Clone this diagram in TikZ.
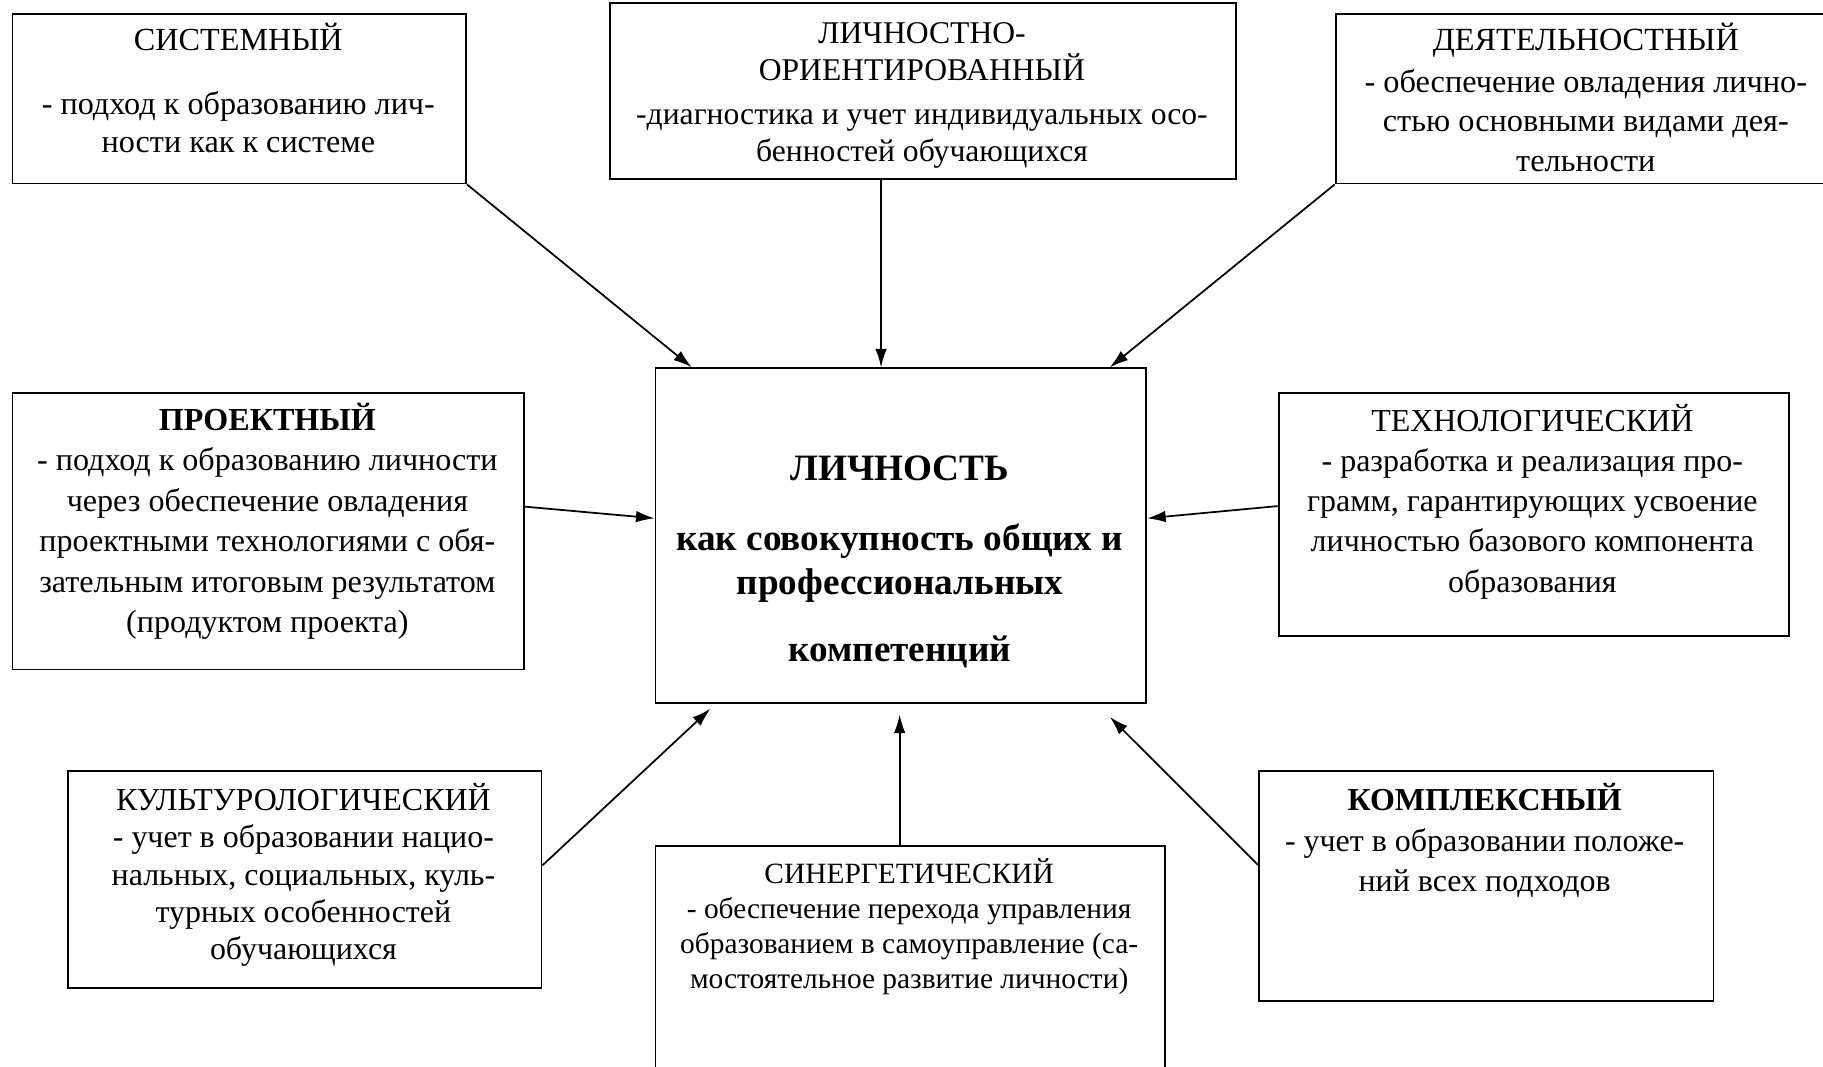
\documentclass[tikz,border=0pt]{standalone}
\usepackage{fontspec}
\setmainfont{Liberation Serif}
\usetikzlibrary{arrows.meta,calc}
\newcommand{\fs}{\rule{0pt}{26pt}}
\tikzset{
  box/.style={draw, line width=1.6pt, rectangle, anchor=north west, inner sep=0pt},
  txt/.style={anchor=north, inner sep=0pt, align=center},
  arr/.style={line width=1.5pt, -{Latex[length=16pt,width=10pt]}},
}
\begin{document}
\begin{tikzpicture}[x=1pt,y=-1pt]
\useasboundingbox (0,0) rectangle (1568,917);
\clip (0,0) rectangle (1568,917);
\fill[white] (0,0) rectangle (1568,917);

% boxes
\node[box, minimum width=390pt, minimum height=146pt] (sys) at (10,11) {};
\node[box, minimum width=538pt, minimum height=151pt] (lich) at (524,2) {};
\node[box, minimum width=432pt, minimum height=146pt] (deyat) at (1148,11) {};
\node[box, minimum width=440pt, minimum height=238pt] (proekt) at (10,337) {};
\node[box, minimum width=422pt, minimum height=288pt] (cen) at (563,316) {};
\node[box, minimum width=439pt, minimum height=209pt] (tech) at (1099,337) {};
\node[box, minimum width=407pt, minimum height=187pt] (kult) at (58,662) {};
\node[box, minimum width=438pt, minimum height=210pt] (syn) at (563,727) {};
\node[box, minimum width=391pt, minimum height=198pt] (kompl) at (1082,662) {};

% texts
\node[txt, font=\fontsize{27.7}{33}\selectfont] (sysT) at (205,17)
  {\fs СИСТЕМНЫЙ\\[22pt]- подход к образованию лич-\\ности как к системе};
\node[txt, font=\fontsize{27.2}{32}\selectfont] (lichT) at (793,11)
  {\fs ЛИЧНОСТНО-\\ОРИЕНТИРОВАННЫЙ\\[6pt]-диагностика и учет индивидуальных осо-\\бенностей обучающихся};
\node[txt, font=\fontsize{27.8}{34}\selectfont] (deyatT) at (1364,17)
  {\fs ДЕЯТЕЛЬНОСТНЫЙ\\[2pt]- обеспечение овладения лично-\\стью основными видами дея-\\тельности};
\node[txt, font=\fontsize{27.6}{34.8}\selectfont] (proektT) at (230,344)
  {\fs\textbf{ПРОЕКТНЫЙ}\\- подход к образованию личности\\через обеспечение овладения\\проектными технологиями с обя-\\зательным итоговым результатом\\(продуктом проекта)};
\node[txt, font=\fontsize{32}{38}\bfseries\selectfont] (cenT) at (774,387)
  {\fs ЛИЧНОСТЬ\\[22pt]как совокупность общих и\\профессиональных\\[20pt]компетенций};
\node[txt, font=\fontsize{27.5}{34.5}\selectfont] (techT) at (1318,345)
  {\fs ТЕХНОЛОГИЧЕСКИЙ\\- разработка и реализация про-\\грамм, гарантирующих усвоение\\личностью базового компонента\\образования};
\node[txt, font=\fontsize{27.5}{32}\selectfont] (kultT) at (261,671)
  {\fs КУЛЬТУРОЛОГИЧЕСКИЙ\\- учет в образовании нацио-\\нальных, социальных, куль-\\турных особенностей\\обучающихся};
\node[txt, font=\fontsize{25.3}{30}\selectfont] (synT) at (782,734)
  {\fs СИНЕРГЕТИЧЕСКИЙ\\- обеспечение перехода управления\\образованием в самоуправление (са-\\мостоятельное развитие личности)};
\node[txt, font=\fontsize{27.5}{35}\selectfont] (komplT) at (1277,671)
  {\fs\textbf{КОМПЛЕКСНЫЙ}\\- учет в образовании положе-\\ний всех подходов};

% connectors
\draw[arr] (sys.south east) -- ([xshift=32pt]cen.north west);
\draw[arr] ([xshift=-36pt]lich.south) -- ([xshift=-17pt]cen.north);
\draw[arr] (deyat.south west) -- ([xshift=-32pt]cen.north east);
\draw[arr] ([yshift=21pt]proekt.east) -- ([yshift=15pt]cen.west);
\draw[arr] ([yshift=7pt]tech.west) -- ([yshift=15pt]cen.east);
\draw[arr] ([yshift=12pt]kult.east) -- ([xshift=48pt,yshift=-4pt]cen.south west);
\draw[arr] ([xshift=-9pt]syn.north) -- ([xshift=-1pt,yshift=-9pt]cen.south);
\draw[arr] ([yshift=18pt]kompl.west) -- ([xshift=-32pt,yshift=-11pt]cen.south east);
\end{tikzpicture}
\end{document}
